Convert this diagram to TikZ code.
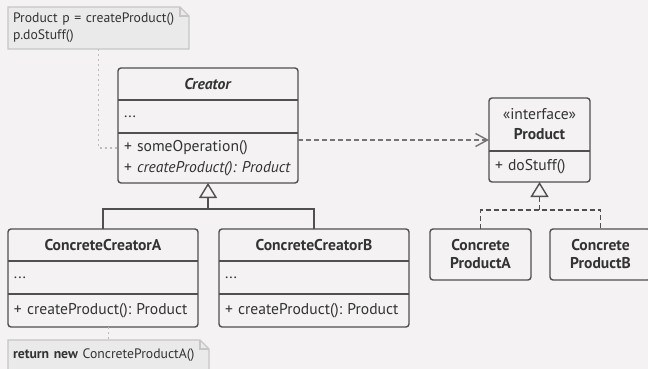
\documentclass[tikz,border=0pt]{standalone}
\usepackage{fontspec}
\setmainfont{PT Sans}
\usetikzlibrary{matrix,positioning,arrows.meta}
\frenchspacing

\definecolor{paper}{HTML}{F4F2F2}
\definecolor{ink}{HTML}{505050}
\definecolor{txt}{HTML}{333333}
\definecolor{notebg}{HTML}{EAEAEA}
\definecolor{noteln}{HTML}{C6C6C6}
\definecolor{dotln}{HTML}{BDBDBD}
\definecolor{depln}{HTML}{747474}

\tikzset{
  class/.style={matrix of nodes, draw=ink, line width=1.4pt, rounded corners=3pt,
    inner sep=0pt, outer sep=0pt, anchor=north west,
    nodes={text width=#1, inner xsep=6pt, inner ysep=0pt, outer sep=0pt, align=left,
      font=\fontsize{15.6}{21}\selectfont, text=txt}},
  head/.style={align=center, font=\fontsize{15.6}{21}\selectfont\bfseries, minimum height=32pt},
  attr/.style={minimum height=33pt},
  ops/.style={minimum height=#1},
  prod/.style={draw=ink, line width=1.4pt, rounded corners=3pt, anchor=north west,
    text width=89pt, inner xsep=6pt, inner ysep=0pt, outer sep=0pt, minimum height=51pt,
    align=center, font=\fontsize{15.6}{18}\selectfont\bfseries, text=txt},
  note/.style={fill=notebg, anchor=north west, inner xsep=5pt, inner ysep=0pt, outer sep=0pt,
    align=left, font=\fontsize{13.7}{17}\selectfont, text=txt},
  noteline/.style={draw=noteln, line width=1.4pt},
  dots/.style={dotln, line width=1.5pt, dash pattern=on 2pt off 3pt},
  dep/.style={depln, line width=1.4pt, dash pattern=on 5pt off 3pt,
    -{Straight Barb[length=12pt,width=13pt]}},
  gen/.style={ink, line width=1.4pt},
  hollow/.style={-{Triangle[open,length=15pt,width=18pt]}}
}

\begin{document}
\begin{tikzpicture}[x=1pt,y=-1pt]
  \path[use as bounding box, fill=paper] (0,0) rectangle (648,369);

  % notes
  \node[note, text width=171pt, minimum height=42pt] (note1) at (8,7)
    {Product p = createProduct()\newline p.doStuff()};
  \node[note, text width=191pt, minimum height=30pt] (note2) at (8,340)
    {\textbf{return new} ConcreteProductA()};
  \foreach \nt in {note1,note2} {
    \fill[paper] ([xshift=-9pt]\nt.north east) -- (\nt.north east) -- ([yshift=-9pt]\nt.north east) -- cycle;
    \draw[noteline] (\nt.north west) -- ([xshift=-9pt]\nt.north east) -- ([yshift=-9pt]\nt.north east)
      -- (\nt.south east) -- (\nt.south west) -- cycle;
    \draw[noteline] ([xshift=-9pt]\nt.north east) |- ([yshift=-9pt]\nt.north east);
  }

  % classes
  \matrix (creator) [class=168pt] at (118,68) {
    |[head]| \textit{Creator} \\
    |[attr]| ... \\
    |[ops=50pt]| {\mbox{+ someOperation()}\newline \mbox{+ \textit{createProduct(): Product}}} \\
  };
  \matrix (cca) [class=178pt] at (8,229) {
    |[head]| ConcreteCreatorA \\
    |[attr]| ... \\
    |[ops=33pt]| + createProduct(): Product \\
  };
  \matrix (ccb) [class=178pt, right=21pt of cca] {
    |[head]| ConcreteCreatorB \\
    |[attr]| ... \\
    |[ops=33pt]| + createProduct(): Product \\
  };
  \matrix (product) [class=89pt] at (489,98) {
    |[head, font=\fontsize{15.6}{20}\selectfont, minimum height=53pt]| {«interface»\\\textbf{Product}} \\
    |[ops=31pt]| + doStuff() \\
  };
  \node[prod] (cpa) at (430,229) {Concrete\\ProductA};
  \node[prod, right=19pt of cpa] (cpb) {Concrete\\ProductB};

  % compartments
  \foreach \c in {creator,cca,ccb} {
    \draw[gen] (\c-2-1.north west) -- (\c-2-1.north east);
    \draw[gen] (\c-3-1.north west) -- (\c-3-1.north east);
  }
  \draw[gen] (product-2-1.north west) -- (product-2-1.north east);

  % connectors
  \coordinate (fork) at ([yshift=-26pt]creator.south);
  \coordinate (pfork) at ([yshift=-28pt]product.south);
  \draw[gen, hollow] (fork) -- (creator.south);
  \draw[gen] (cca.north) |- (fork) -| (ccb.north);
  \draw[gen, dash pattern=on 5pt off 3pt, hollow] (pfork) -- (product.south);
  \draw[gen, dash pattern=on 5pt off 3pt] (cpa.north) |- (pfork) -| (cpb.north);
  \draw[dep] ([yshift=18pt]creator-3-1.east) -- ([yshift=18pt]creator-3-1.east -| product.west);
  \draw[dots] (note1.south) |- ([yshift=10pt]creator-3-1.west);
  \draw[dots] (cca.south -| note2.north) -- (note2.north);
\end{tikzpicture}
\end{document}
